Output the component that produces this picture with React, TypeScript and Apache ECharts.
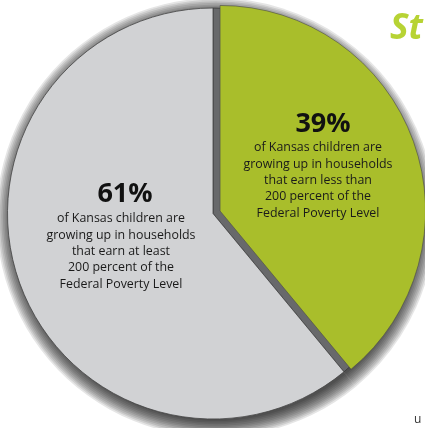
import React, { useEffect, useRef } from "react";
import * as echarts from "echarts";

const sliceNames = ["Less than 200% FPL", "At least 200% FPL"];
const sliceValues = [39, 61];
const pctLabels = ["39%", "61%"];
const greenLines = [
  "of Kansas children are",
  "growing up in households",
  "that earn less than",
  "200 percent of the",
  "Federal Poverty Level",
];
const grayLines = [
  "of Kansas children are",
  "growing up in households",
  "that earn at least",
  "200 percent of the",
  "Federal Poverty Level",
];
const titleFragment = "St";
const footFragment = "u";

const GREEN = "#a9be2b";
const GRAY = "#d1d2d4";
const BAND = "#68696b";
const FONT = "'Open Sans', 'Noto Sans', sans-serif";

export default function App() {
  const ref = useRef<HTMLDivElement>(null);
  useEffect(() => {
    if (!ref.current) return;
    const chart = echarts.init(ref.current, null, { renderer: "svg" });
    const cx = 213;
    const cy = 213.5;
    const radius = 205.5;
    const offset = 7.5;
    const sdx = 3;
    const sdy = 4;
    const layers = 10;
    const step = 1.6;

    const shadowSeries: any[] = [];
    for (let i = layers; i >= 0; i--) {
      shadowSeries.push({
        type: "pie",
        center: [cx + sdx, cy + sdy],
        radius: radius - 2 + i * step,
        startAngle: 90,
        clockwise: true,
        silent: true,
        label: { show: false },
        labelLine: { show: false },
        z: 1,
        data: [
          {
            name: sliceNames[0],
            value: sliceValues[0],
            itemStyle: { color: "rgba(0,0,0,0.1)", borderWidth: 0 },
          },
          {
            name: sliceNames[1],
            value: sliceValues[1],
            itemStyle: { color: "rgba(0,0,0,0.1)", borderWidth: 0 },
          },
        ],
      });
    }

    chart.setOption({
      animation: false,
      series: [
        ...shadowSeries,
        {
          type: "pie",
          center: [cx, cy],
          radius,
          startAngle: 90,
          clockwise: true,
          silent: true,
          label: { show: false },
          labelLine: { show: false },
          z: 3,
          data: [
            {
              name: sliceNames[0],
              value: sliceValues[0],
              itemStyle: { color: BAND, borderColor: "#333", borderWidth: 0.7 },
            },
            {
              name: sliceNames[1],
              value: sliceValues[1],
              itemStyle: { color: GRAY, borderColor: "#444", borderWidth: 0.8 },
            },
          ],
        },
        {
          type: "pie",
          center: [cx, cy],
          radius,
          startAngle: 90,
          clockwise: true,
          silent: true,
          selectedMode: "single",
          selectedOffset: offset,
          label: { show: false },
          labelLine: { show: false },
          z: 4,
          data: [
            {
              name: sliceNames[0],
              value: sliceValues[0],
              selected: true,
              itemStyle: { color: GREEN, borderColor: "#4a4a4a", borderWidth: 0.6 },
            },
            {
              name: sliceNames[1],
              value: sliceValues[1],
              itemStyle: { color: "rgba(0,0,0,0)", borderWidth: 0 },
            },
          ],
        },
      ],
      graphic: [
        {
          type: "text",
          z: 10,
          style: {
            text: pctLabels[0],
            x: 323,
            y: 121,
            textAlign: "center",
            textVerticalAlign: "middle",
            font: `bold 27px ${FONT}`,
            fill: "#111",
          },
        },
        {
          type: "text",
          z: 10,
          style: {
            text: greenLines.join("\n"),
            x: 318,
            y: 179.5,
            textAlign: "center",
            textVerticalAlign: "middle",
            font: `12.4px ${FONT}`,
            lineHeight: 16.3,
            fill: "#1a1a1a",
          },
        },
        {
          type: "text",
          z: 10,
          style: {
            text: pctLabels[1],
            x: 125,
            y: 191,
            textAlign: "center",
            textVerticalAlign: "middle",
            font: `bold 27px ${FONT}`,
            fill: "#111",
          },
        },
        {
          type: "text",
          z: 10,
          style: {
            text: grayLines.join("\n"),
            x: 121,
            y: 250.5,
            textAlign: "center",
            textVerticalAlign: "middle",
            font: `12.4px ${FONT}`,
            lineHeight: 16.3,
            fill: "#1a1a1a",
          },
        },
        {
          type: "text",
          z: 10,
          style: {
            text: titleFragment,
            x: 390,
            y: 43,
            textAlign: "left",
            textVerticalAlign: "bottom",
            font: `italic bold 35px ${FONT}`,
            fill: "#b7d334",
          },
        },
        {
          type: "text",
          z: 10,
          style: {
            text: footFragment,
            x: 414,
            y: 418,
            textAlign: "left",
            textVerticalAlign: "middle",
            font: `12px ${FONT}`,
            fill: "#333",
          },
        },
      ],
    });
    return () => chart.dispose();
  }, []);
  return (
    <div
      ref={ref}
      style={{ position: "fixed", left: 0, top: 0, width: 425, height: 428 }}
    />
  );
}
